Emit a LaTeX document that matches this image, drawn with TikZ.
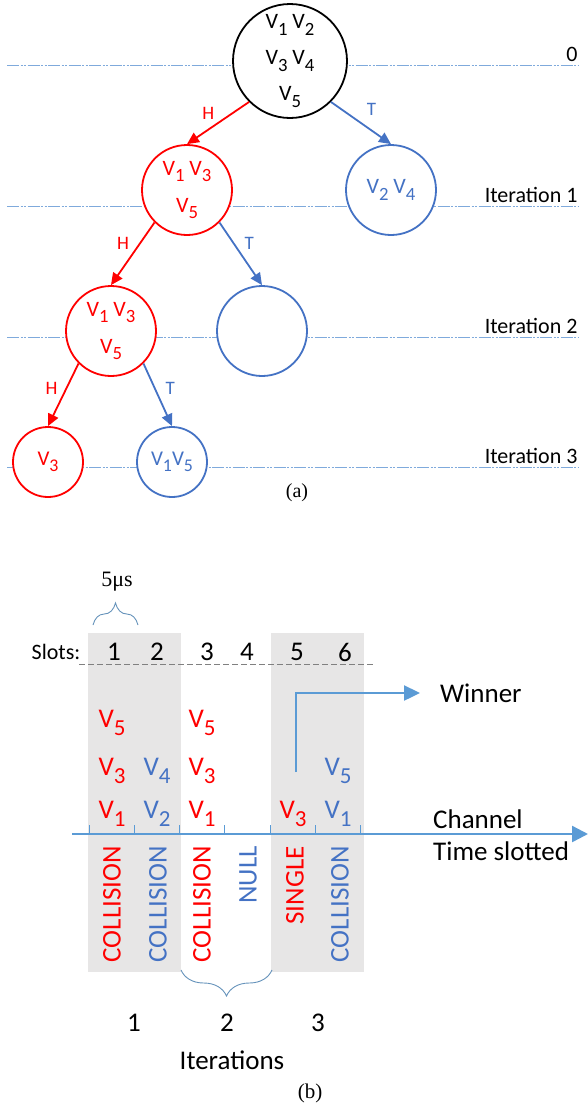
\documentclass[tikz,border=0pt]{standalone}
\usepackage{fontspec}
\usepackage{graphicx}
\setmainfont{Carlito}
\newfontfamily\capfont{Liberation Serif}
\usetikzlibrary{arrows.meta,decorations.pathreplacing}

\definecolor{hred}{HTML}{FF0000}
\definecolor{tblue}{HTML}{4472C4}
\definecolor{lvlblue}{HTML}{7FAADC}
\definecolor{chblue}{HTML}{5B9BD5}
\definecolor{slotgray}{HTML}{E7E6E6}

\newcommand{\vn}[1]{V\raisebox{-0.3em}{\scalebox{0.85}{#1}}}
\newcommand{\fs}[2]{\fontsize{#1}{#2}\selectfont}

\tikzset{
  coin/.style={circle,draw,line width=1.8pt,fill=white,inner sep=0pt,align=center},
  flip/.style={line width=1.8pt,-{Triangle[length=12pt,width=11pt]}},
  lvl/.style={lvlblue,line width=1pt,dash pattern=on 12pt off 1.5pt on 2pt off 1.5pt on 2pt off 1.5pt},
  lbl/.style={font=\fs{19}{19},inner sep=3pt},
  chan/.style={chblue,line width=2.4pt},
  big/.style={font=\fs{27}{27},inner sep=0pt},
  rot/.style={rotate=90,anchor=east,inner sep=0pt,font=\fs{27}{27}},
  bracket/.style={chblue!70!gray,line width=0.9pt,decorate}
}

\begin{document}
\begin{tikzpicture}[x=1pt,y=-1pt]
\useasboundingbox (0,0) rectangle (588,1106);

% (a) the coin tree
\foreach \yy/\lab [count=\i] in {65/0,206/Iteration 1,337/Iteration 2,467/Iteration 3}
  \draw[lvl] (7,\yy) -- (578,\yy)
    node[anchor=base east,inner sep=0pt,yshift=4pt,text=black,font=\fs{22}{22}] (lev\i) {\lab};

\node[coin,minimum size=114pt,font=\fs{22}{36}] (root) at (290,61) {\vn1 \vn2\\\vn3 \vn4\\\vn5};
\node[coin,draw=hred,text=hred,minimum size=90pt,font=\fs{22}{37}] (n1) at (187,190) {\vn1 \vn3\\\vn5};
\node[coin,draw=tblue,text=tblue,minimum size=90pt,font=\fs{22}{22}] (n2) at (391,190) {\vn2 \vn4};
\node[coin,draw=hred,text=hred,minimum size=90pt,font=\fs{22}{37}] (n3) at (111,331) {\vn1 \vn3\\\vn5};
\node[coin,draw=tblue,minimum size=90pt] (n4) at (262,331) {};
\node[coin,draw=hred,text=hred,minimum size=70pt,font=\fs{21}{21}] (n5) at (48,462) {\vn3};
\node[coin,draw=tblue,text=tblue,minimum size=70pt,font=\fs{21}{21}] (n6) at (172,462) {\vn1\vn5};

\draw[flip,hred] (root.225) -- node[lbl,above left] (h1) {H} (n1.north);
\draw[flip,tblue] (root.315) -- node[lbl,above right,xshift=2pt,yshift=4pt] (t1) {T} (n2.north);
\draw[flip,hred] (n1.225) -- node[lbl,above left] (h2) {H} (n3.north);
\draw[flip,tblue] (n1.315) -- node[lbl,above right] (t2) {T} (n4.north);
\draw[flip,hred] (n3.225) -- node[lbl,left,xshift=-2pt,yshift=6pt] (h3) {H} (n5.north);
\draw[flip,tblue] (n3.315) -- node[lbl,right,xshift=4pt,yshift=6pt] (t3) {T} (n6.north);

\node[font=\capfont\fs{20}{20}] (capa) at (297,493) {(a)};

% (b) the slotted channel
\fill[slotgray] (88,633) rectangle (181,972);
\fill[slotgray] (271,633) rectangle (364,972);

\node[font=\capfont\fs{22}{22}] (dur) at (117,582) {5μs};
\draw[bracket,decoration={brace,amplitude=22pt}] (93,625) -- (138,625);

\node[font=\fs{22}{22}] (slots) at (56,652) {Slots:};
\foreach \n/\xx in {1/114,2/157,3/207,4/247,5/297,6/345}
  \node[font=\fs{27}{27}] (s\n) at (\xx,652) {\n};
\draw[gray,line width=0.8pt,dash pattern=on 6pt off 3pt] (79,664) -- (373,664);

\foreach \k in {0,...,6}
  \draw[chblue,line width=1pt] ({89+45.33*\k},834) -- ++(0,-9);
\coordinate (ax0) at (72,834);
\coordinate (ax1) at (588,834);
\draw[chan,-{Triangle[length=16pt,width=16pt]}] (ax0) -- (ax1);

\node[big,anchor=west] (chn) at (433,819) {Channel};
\node[big,anchor=west] (tsl) at (433,851) {Time slotted};

\foreach \nm/\xx/\yy/\cc/\v in {a5/112/727/hred/5,a3/112/775/hred/3,a1/112/818/hred/1,
    b4/157/775/tblue/4,b2/157/818/tblue/2,
    c5/202/727/hred/5,c3/202/775/hred/3,c1/202/818/hred/1,
    e3/293/818/hred/3,
    f5/338/775/tblue/5,f1/338/818/tblue/1}
  \node[big,anchor=base,text=\cc] (\nm) at (\xx,\yy) {\vn{\v}};

\coordinate (wstart) at (296,772);
\node[big,anchor=west] (win) at (440,693) {Winner};
\draw[chan,-{Triangle[length=16pt,width=15pt]}] (wstart) |- ([xshift=-20pt]win.west);

\node[rot,text=hred] (r1) at (112,846) {COLLISION};
\node[rot,text=tblue] (r2) at (158,846) {COLLISION};
\node[rot,text=hred] (r3) at (202,846) {COLLISION};
\node[rot,text=tblue] (r4) at (248,846) {NULL};
\node[rot,text=hred] (r5) at (295,846) {SINGLE};
\node[rot,text=tblue] (r6) at (340,846) {COLLISION};

\draw[bracket,decoration={brace,amplitude=26pt}] (272,970) -- (181,970);

\node[big] (i1) at (134,1023) {1};
\node[big] (i2) at (227,1023) {2};
\node[big] (i3) at (318,1023) {3};
\node[big] (its) at (232,1060) {Iterations};

\node[font=\capfont\fs{21}{21}] (capb) at (310,1093) {(b)};
\end{tikzpicture}
\end{document}
